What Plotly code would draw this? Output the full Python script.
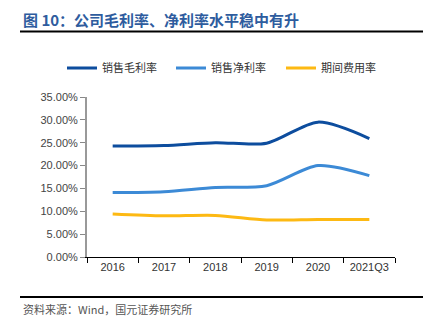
import plotly.graph_objects as go

categories = ["2016", "2017", "2018", "2019", "2020", "2021Q3"]
gross_margin = [24.3, 24.4, 25.0, 24.9, 29.5, 25.9]
net_margin = [14.1, 14.3, 15.2, 15.6, 20.0, 17.8]
expense_ratio = [9.4, 9.0, 9.1, 8.1, 8.2, 8.2]
series_names = ["销售毛利率", "销售净利率", "期间费用率"]
y_ticks = [0, 5, 10, 15, 20, 25, 30, 35]
y_tick_labels = ["%.2f%%" % v for v in y_ticks]

W, H = 423, 321
colors = ["#0D4D9E", "#3C8AD6", "#FDB913"]
legend_ids = ["legend", "legend2", "legend3"]
legend_x = [62, 171, 281]

fig = go.Figure()
for name, vals, c, lid in zip(series_names, [gross_margin, net_margin, expense_ratio], colors, legend_ids):
    fig.add_trace(go.Scatter(x=categories, y=vals, name=name, mode="lines", legend=lid,
                             line=dict(color=c, width=3, shape="spline", smoothing=0.8)))

legend_common = dict(orientation="h", xref="container", yref="container",
                     xanchor="left", y=1 - 68 / H, yanchor="middle",
                     font=dict(size=11, color="#333"), itemwidth=30,
                     bgcolor="rgba(0,0,0,0)")

fig.update_layout(
    width=W, height=H,
    margin=dict(l=0, r=0, t=0, b=0, autoexpand=False),
    paper_bgcolor="white", plot_bgcolor="white",
    font=dict(family="Noto Sans CJK SC, Liberation Sans, Arial", size=11, color="#333"),
    showlegend=True,
    legend=dict(x=legend_x[0] / W, **legend_common),
    legend2=dict(x=legend_x[1] / W, **legend_common),
    legend3=dict(x=legend_x[2] / W, **legend_common),
    xaxis=dict(domain=[87 / W, 395 / W], type="category", tickson="boundaries",
               range=[-0.5, 5.5],
               ticks="outside", ticklen=5, tickcolor="#000", showline=True,
               linecolor="#000", linewidth=1, showgrid=False, zeroline=False,
               automargin=False,
               tickfont=dict(family="Liberation Sans, Arial", size=11, color="#333")),
    yaxis=dict(domain=[1 - 257 / H, 1 - 97 / H], range=[0, 35], tickvals=y_ticks,
               ticktext=y_tick_labels, ticks="outside", ticklen=5,
               tickcolor="#888", showline=True, linecolor="#999", linewidth=2,
               showgrid=False, zeroline=False, automargin=False,
               tickfont=dict(family="Liberation Sans, Arial", size=11, color="#444")),
)

fig.add_annotation(text="<b>图 10：公司毛利率、净利率水平稳中有升</b>", xref="paper", yref="paper",
                   x=21 / W, y=1 - 19 / H, xanchor="left", yanchor="middle", showarrow=False,
                   font=dict(size=15, color="#2E5C9E", family="Noto Sans CJK SC"))
fig.add_annotation(text="资料来源：Wind，国元证券研究所", xref="paper", yref="paper",
                   x=21 / W, y=1 - 309 / H, xanchor="left", yanchor="middle", showarrow=False,
                   font=dict(size=11, color="#555", family="Noto Sans CJK SC"))
fig.add_shape(type="line", xref="paper", yref="paper", x0=20 / W, x1=1, y0=1 - 31.5 / H, y1=1 - 31.5 / H,
              line=dict(color="#000", width=2))
fig.add_shape(type="line", xref="paper", yref="paper", x0=20 / W, x1=1, y0=1 - 297 / H, y1=1 - 297 / H,
              line=dict(color="#000", width=2))

fig.write_html("out.html")
